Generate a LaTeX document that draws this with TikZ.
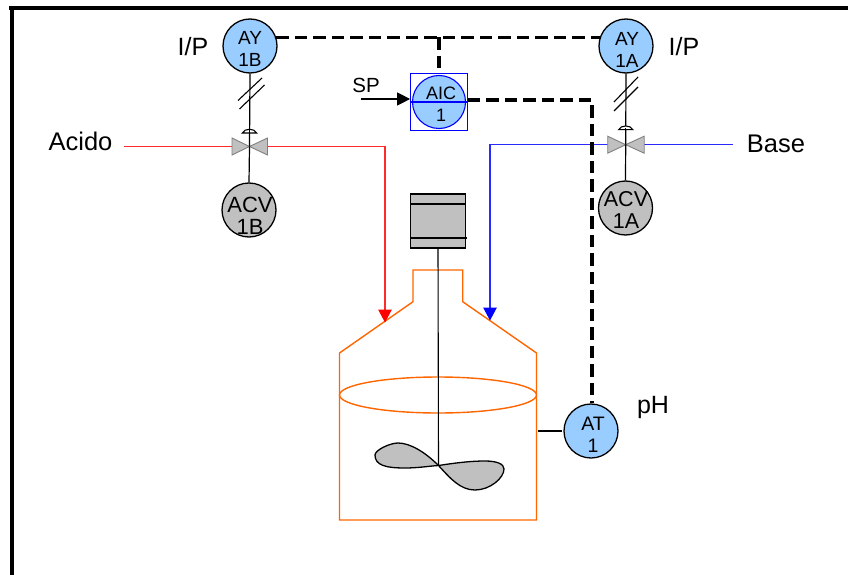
\documentclass[tikz,border=0pt]{standalone}
\usepackage{fontspec}
\setmainfont{Liberation Sans}
\usetikzlibrary{arrows.meta,calc}
\definecolor{instblue}{HTML}{99CCFF}
\definecolor{instgray}{HTML}{C0C0C0}
\definecolor{valvegray}{HTML}{808080}
\definecolor{tankorange}{HTML}{FF6600}
\definecolor{redline}{HTML}{FF2A2A}
\definecolor{blueline}{HTML}{2A2AFF}
\tikzset{
  x=1pt,y=-1pt,
  inst/.style={circle,draw=black,line width=1.3pt,minimum size=54pt,inner sep=0pt},
  instb/.style={inst,fill=instblue},
  instg/.style={inst,fill=instgray},
  tag/.style={align=center,inner sep=0pt,text=black,font=\fontsize{#1}{22}\selectfont},
  txt/.style={inner sep=0pt,text=black,font=\fontsize{#1}{26}\selectfont},
  signal/.style={draw=black,line width=3.1pt,dash pattern=on 12.5pt off 6pt},
  stem/.style={draw=black,line width=1.2pt},
  thin line/.style={draw=black,line width=1.1pt},
  tankline/.style={draw=tankorange,line width=1.4pt},
  acidline/.style={draw=redline,line width=1.3pt,-{Triangle[length=13pt,width=13.5pt,color=red]}},
  baseline/.style={draw=blueline,line width=1.3pt,-{Triangle[length=13pt,width=13.5pt,color=blue]}},
  valvebody/.style={draw=valvegray,fill=instgray,line width=0.9pt},
}
\begin{document}
\begin{tikzpicture}
\useasboundingbox (0,0) rectangle (848,575);
% frame
\fill[black] (9,6) rectangle (848,10);
\fill[black] (10,6) rectangle (14,575);
% named points
\coordinate (v1) at (249.5,146.5);
\coordinate (v2) at (625.7,144.7);
\coordinate (redstart) at (124,146.5);
\coordinate (redcorner) at (385,146.5);
\coordinate (redend) at (385,322.5);
\coordinate (bluestart) at (733,144.7);
\coordinate (bluecorner) at (490,144.7);
\coordinate (blueend) at (490,320.5);
\coordinate (spstart) at (361,99);
\coordinate (junction) at (439,37.5);
\coordinate (tankside) at (538,431);
\coordinate (hub) at (438.5,465.5);
% tank
\draw[tankline] (339.5,520) -- (339.5,353) -- (413,301.7) -- (413,270) -- (462.7,270) -- (462.7,301.7) -- (536.5,353) -- (536.5,520) -- cycle;
\draw[tankline] (438,395) ellipse [x radius=98.5,y radius=18];
% motor
\node[draw=black,line width=1.3pt,fill=instgray,minimum width=54.5pt,minimum height=54pt,inner sep=0pt] (motor) at (438,221) {};
\draw[thin line] (410.7,204) -- (465,204);
\draw[thin line] (410.7,238) -- (466.7,238);
% shaft
\draw[thin line] (motor.south) -- (hub);
% impeller
\draw[fill=instgray,draw=black,line width=1.3pt]
  (hub) .. controls (425,452) and (410,443) .. (398,443)
  .. controls (390,443) and (375,450) .. (375,455)
  .. controls (375,465) and (385,468) .. (405,468)
  .. controls (418,468) and (430,466) .. (hub)
  .. controls (455,463) and (470,461) .. (485,461)
  .. controls (497,461) and (504,464) .. (504,469)
  .. controls (504,478) and (490,490) .. (475,490)
  .. controls (460,490) and (450,478) .. (hub) -- cycle;
% process lines
\draw[acidline] (redstart) -- (redcorner) -- (redend);
\draw[baseline] (bluestart) -- (bluecorner) -- (blueend);
% valves
\draw[valvebody] (v1) -- ++(-17.5,-8.5) -- ++(0,17) -- cycle;
\draw[valvebody] (v1) -- ++(18,-8.5) -- ++(0,17) -- cycle;
\draw[valvebody] (v2) -- ++(-18,-8.5) -- ++(0,17) -- cycle;
\draw[valvebody] (v2) -- ++(18.5,-8.5) -- ++(0,17) -- cycle;
% instruments
\node[instb] (ay1b) at (250,46) {};
\node[instb] (ay1a) at (626,46) {};
\node[instg] (acv1b) at (249,210) {};
\node[instg] (acv1a) at (625.5,208) {};
\node[instb] (at1) at (591,431) {};
\node[draw=blue,line width=1.2pt,minimum size=56.5pt,inner sep=0pt] (aicbox) at (439,102) {};
\node[circle,draw=blue,fill=instblue,line width=1.1pt,minimum size=53pt,inner sep=0pt] (aic) at (439,102) {};
\draw[draw=blue,line width=1.2pt] (aicbox.west) -- (aicbox.east);
% stems
\draw[stem] (ay1b.south) -- (v1);
\draw[stem] (acv1b.north) -- (v1);
\draw[stem] (ay1a.south) -- (v2);
\draw[stem] (acv1a.north) -- (v2);
% electric signal ticks
\draw[thin line] (238,100.5) -- (262,78);
\draw[thin line] (239.5,109) -- (264.5,85);
\draw[thin line] (614,102) -- (638,77);
\draw[thin line] (614,111) -- (638,87);
% actuators
\draw[thin line,fill=white] ($(v1)+(-7,-13.5)$) .. controls ($(v1)+(-5,-18.5)$) and ($(v1)+(5,-18.5)$) .. ($(v1)+(7,-13.5)$) -- cycle;
\draw[thin line,fill=white] ($(v2)+(-7,-15)$) .. controls ($(v2)+(-5,-20)$) and ($(v2)+(5,-20)$) .. ($(v2)+(7,-15)$) -- cycle;
\draw[stem] ($(v1)+(0,-6)$) -- ($(v1)+(0,-17)$);
\draw[stem] ($(v2)+(0,-6)$) -- ($(v2)+(0,-17)$);
% signals
\draw[signal] (ay1b.18) -- (ay1a.162);
\draw[signal] (junction) -- (aicbox.north);
\draw[signal] ([yshift=2pt]aicbox.east) -| ([xshift=1pt]at1.north);
\draw[thin line] (tankside) -- (562,431);
\draw[draw=black,line width=1.2pt,-{Triangle[length=13pt,width=13pt]}] (spstart) -- (aicbox.west |- spstart);
% labels
\node[tag=19] (ay1bt) at (250,49) {AY\\1B};
\node[tag=19] (ay1at) at (627,50) {AY\\1A};
\node[tag=18] (aict) at (441,104) {AIC\\1};
\node[tag=22] (acv1bt) at (250,215.5) {ACV\\1B};
\node[tag=21.5] (acv1at) at (626,210) {ACV\\1A};
\node[tag=19.5] (at1t) at (593,435) {AT\\1};
\node[txt=20.5] (sp) at (366,85) {SP};
\node[txt=25] (ipl) at (193,47) {I/P};
\node[txt=25] (ipr) at (684,47) {I/P};
\node[txt=25.5] (acido) at (80.5,141) {Acido};
\node[txt=25.5] (base) at (776,144) {Base};
\node[txt=25] (ph) at (653,407) {pH};
\end{tikzpicture}
\end{document}
